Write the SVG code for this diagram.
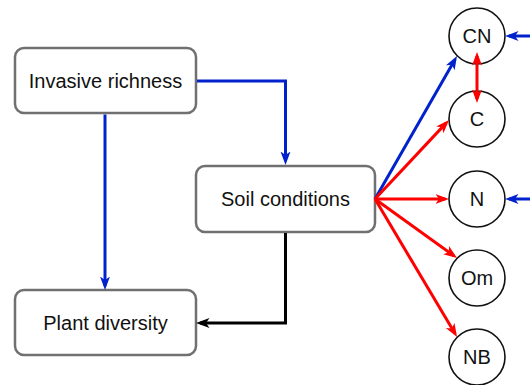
<svg xmlns="http://www.w3.org/2000/svg" width="530" height="385" viewBox="0 0 530 385">
<style>
.box{fill:#fff;stroke:#707070;stroke-width:2.5}
.circ{fill:#fff;stroke:#111;stroke-width:1.6}
text{font-family:"Liberation Sans",Arial,sans-serif;font-size:20px;fill:#111;text-anchor:middle;dominant-baseline:central}
.c{fill:none;stroke-width:3}
.blue{stroke:#0022CC}
.red{stroke:#FF0000}
.black{stroke:#000}
</style>
<defs>
<marker id="ab" markerUnits="userSpaceOnUse" markerWidth="15" markerHeight="11" refX="9.5" refY="5" orient="auto-start-reverse"><path d="M0,0 L13.5,5 L0,10 L3.5,5 z" fill="#0022CC"/></marker>
<marker id="ar" markerUnits="userSpaceOnUse" markerWidth="15" markerHeight="11" refX="9.5" refY="5" orient="auto-start-reverse"><path d="M0,0 L13.5,5 L0,10 L3.5,5 z" fill="#FF0000"/></marker>
<marker id="ak" markerUnits="userSpaceOnUse" markerWidth="15" markerHeight="11" refX="9.5" refY="5" orient="auto-start-reverse"><path d="M0,0 L13.5,5 L0,10 L3.5,5 z" fill="#000"/></marker>
</defs>
<g id="invasive"><rect class="box" x="15" y="48" width="181" height="65" rx="9"/><text x="105.5" y="81">Invasive richness</text></g>
<g id="soil"><rect class="box" x="196" y="166" width="179" height="66" rx="9"/><text x="285.5" y="199">Soil conditions</text></g>
<g id="plant"><rect class="box" x="15" y="290" width="181" height="65" rx="9"/><text x="105.5" y="323">Plant diversity</text></g>
<g id="CN"><circle class="circ" cx="477" cy="36" r="28"/><text x="477" y="36">CN</text></g>
<g id="C"><circle class="circ" cx="477" cy="119" r="28"/><text x="477" y="119">C</text></g>
<g id="N"><circle class="circ" cx="477" cy="199" r="28"/><text x="477" y="199">N</text></g>
<g id="Om"><circle class="circ" cx="477" cy="278" r="28"/><text x="477" y="278">Om</text></g>
<g id="NB"><circle class="circ" cx="477" cy="357" r="28"/><text x="477" y="357">NB</text></g>
<g id="connectors">
<path class="c blue" d="M197,81 H285.5 V161" marker-end="url(#ab)"/>
<path class="c blue" d="M105,114.5 V286" marker-end="url(#ab)"/>
<path class="c black" d="M285.5,233 V323 H200" marker-end="url(#ak)"/>
<path class="c blue" d="M375,199 L455,59.5" marker-end="url(#ab)"/>
<path class="c red" d="M375,199 L446.3,122.9" marker-end="url(#ar)"/>
<path class="c red" d="M375,199 L445,199" marker-end="url(#ar)"/>
<path class="c red" d="M375,199 L453.8,255.7" marker-end="url(#ar)"/>
<path class="c red" d="M375,199 L455,333.6" marker-end="url(#ar)"/>
<path class="c red" d="M477,56 V99" marker-start="url(#ar)" marker-end="url(#ar)"/>
<path class="c blue" d="M532,36 H509" marker-end="url(#ab)"/>
<path class="c blue" d="M532,199 H509" marker-end="url(#ab)"/>
</g>
</svg>
